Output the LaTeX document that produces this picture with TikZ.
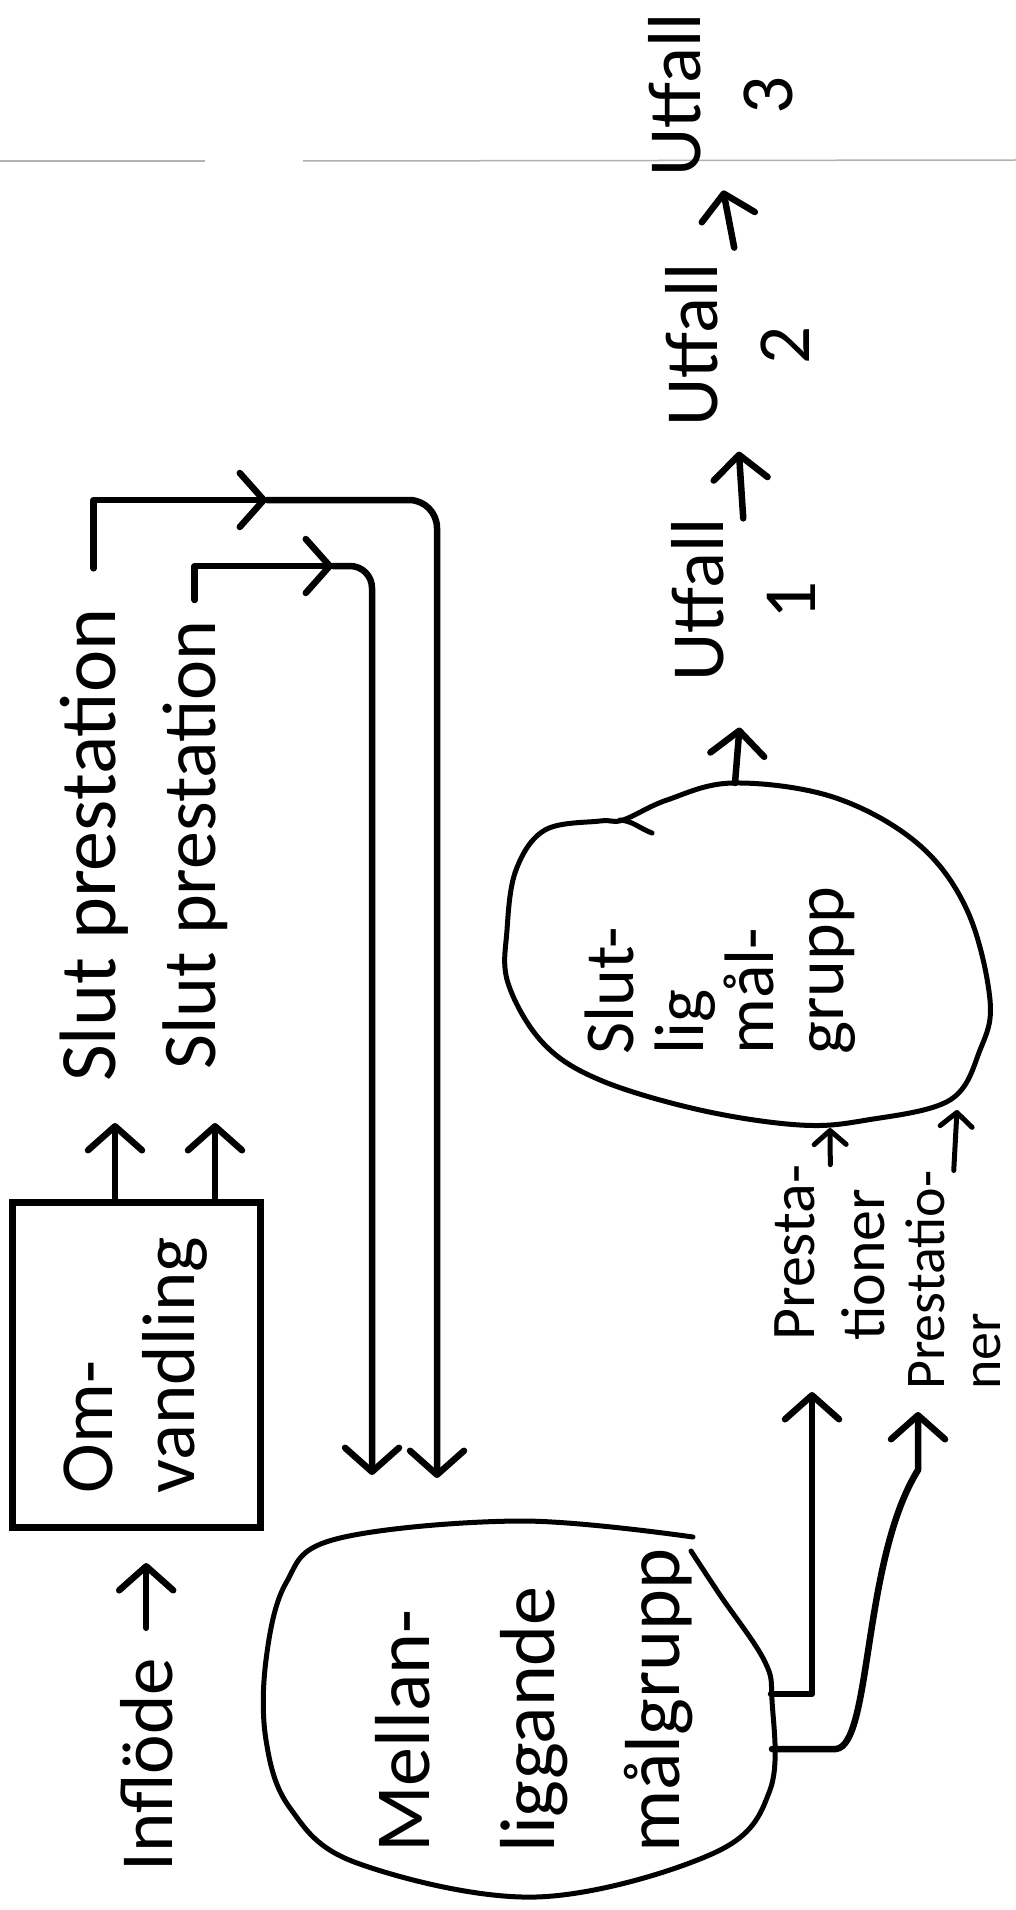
\documentclass[tikz,border=0pt]{standalone}
\usepackage{fontspec}
\setmainfont{Carlito}
\usetikzlibrary{arrows.meta}

\begin{document}
\begin{tikzpicture}
[x=1pt, y=-1pt, every node/.style={inner sep=0pt},
 pen/.style={line width=6.5pt, line cap=round, line join=round},
 blob/.style={line width=5pt, line cap=round, line join=round},
 arr/.style={pen, -{Straight Barb[length=24pt, width=54pt, round]}},
 tick/.style={line width=5pt, line cap=round, -{Straight Barb[length=14pt, width=32pt, round]}},
 box/.style={draw, line width=7pt, minimum width=325pt, minimum height=248pt},
 hand/.style={rotate=90},
 scan/.style={gray!60, line width=1.5pt}]
\fill [white] (0,0) rectangle (1016,1910);
\useasboundingbox (0,0) rectangle (1016,1910);
\draw [scan] (0,161) -- (205,161);
\draw [scan] (303,161) -- (1016,160);
\node (inflode) [hand, anchor=base west, font=\fontsize{75}{80}\selectfont] at (172,1872) {Inflöde};
\node (omv) [box, hand, align=left, font=\fontsize{75}{82}\selectfont] at (136,1365) {Om-\\vandling};
\node (sp1) [hand, anchor=base west, font=\fontsize{80}{80}\selectfont] at (115,1082) {Slut prestation};
\node (sp2) [hand, anchor=base west, font=\fontsize{76}{80}\selectfont] at (215,1070) {Slut prestation};
\node (mellan) [hand, anchor=north west, align=left, font=\fontsize{78}{125}\selectfont] at (375,1853) {Mellan-\\liggande\\målgrupp};
\node (slutlig) [hand, anchor=north west, align=left, font=\fontsize{70}{70}\selectfont] at (585,1055) {Slut-\\lig\\mål-\\grupp};
\node (presta) [hand, anchor=north west, align=left, font=\fontsize{62}{70}\selectfont] at (775,1341) {Presta-\\tioner};
\node (prestatio) [hand, anchor=north west, align=left, font=\fontsize{56}{56}\selectfont] at (906,1390) {Prestatio-\\ner};
\node (utf1) [hand, anchor=north, align=center, font=\fontsize{75}{92}\selectfont] at (671,600) {Utfall\\1};
\node (utf2) [hand, anchor=north, align=center, font=\fontsize{75}{92}\selectfont] at (665,345) {Utfall\\2};
\node (utf3) [hand, anchor=north, align=center, font=\fontsize{75}{92}\selectfont] at (648,95) {Utfall\\3};
% blobs
\draw [blob] plot [smooth, tension=0.6] coordinates {(693,1537) (520,1521) (336,1539) (286,1583) (266,1660) (266,1740) (290,1808) (357,1863) (536,1897) (714,1853) (770,1790) (772,1700) (764,1660) (720,1595) (691,1551)};
\draw [blob] plot [smooth cycle, tension=0.6] coordinates {(623,820) (667,800) (733,783) (833,797) (917,843) (967,910) (990,1000) (980,1050) (950,1100) (867,1120) (800,1125) (700,1110) (600,1080) (543,1043) (508,983) (507,930) (516,870) (545,830) (600,821)};
\draw [blob] (620,820) to [out=-5, in=160] (652,833);
\coordinate (k1) at (267,500);
\coordinate (k2) at (333,566);
\coordinate (t1) at (437,1478);
\coordinate (t2) at (372,1475);
\coordinate (m1) at (771,1694);
\coordinate (m2) at (772,1749);
\coordinate (p1) at (812,1392);
\coordinate (p2) at (918,1412);
\coordinate (s1) at (830,1128);
\coordinate (s2) at (957,1110);
\coordinate (stop) at (735,783);
% connectors
\draw [arr, shorten <=30pt, shorten >=32pt] (inflode.east) -- (inflode.east |- omv.west);
\draw [arr, shorten >=41pt] (omv.east -| sp1.base west) -- (sp1.base west);
\draw [arr, shorten >=53pt] (omv.east -| sp2.base west) -- (sp2.base west);
\draw [arr] ([yshift=40pt]sp1.east) |- (k1);
\draw [arr, rounded corners=28pt] (k1) -| (t1);
\draw [arr] ([yshift=20pt]sp2.east) |- (k2);
\draw [arr, rounded corners=22pt] (k2) -| (t2);
\draw [arr] (m1) -| (p1);
\draw [arr] (m2) -- ++(64,0) .. controls (872,1745) and (862,1560) .. (918,1470) -- (p2);
\draw [tick] (presta.east) -- (s1);
\draw [tick] (prestatio.east) -- (s2);
\draw [arr, shorten >=46pt] (stop) -- (utf1.west);
\draw [arr, shorten >=25pt] (utf1.east) -- (utf2.west);
\draw [arr, shorten <=16pt, shorten >=14pt] (utf2.east) -- (utf3.west);
\end{tikzpicture}
\end{document}
